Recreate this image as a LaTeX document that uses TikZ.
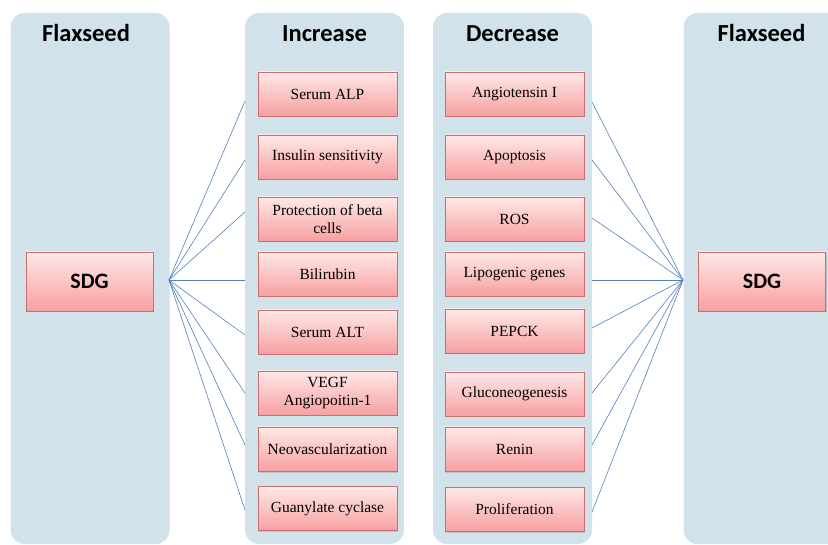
\documentclass[tikz,border=0pt]{standalone}
\usepackage{fontspec}
\setmainfont{Liberation Serif}
\newfontfamily\headfont{Carlito}
\usetikzlibrary{positioning,shadows}
\definecolor{panelblue}{RGB}{209,226,234}
\definecolor{boxtop}{RGB}{255,232,232}
\definecolor{boxbot}{RGB}{247,160,160}
\definecolor{boxline}{RGB}{200,110,108}
\definecolor{fanline}{RGB}{84,128,184}
\tikzset{
  panel/.style={fill=panelblue, rounded corners=14pt, minimum width=159pt, minimum height=531pt, inner sep=0pt},
  head/.style={font=\headfont\bfseries\fontsize{24.5}{28}\selectfont, anchor=base},
  effect/.style={draw=boxline, line width=0.6pt, top color=boxtop, bottom color=boxbot,
    minimum width=139pt, minimum height=44pt, align=center, inner sep=2pt,
    font=\rmfamily\fontsize{15.5}{17.5}\selectfont,
    drop shadow={shadow xshift=1pt, shadow yshift=-1.5pt, opacity=0.3}},
  sdgbox/.style={effect, minimum width=127pt, minimum height=59pt, font=\headfont\bfseries\fontsize{22}{26}\selectfont},
  fan/.style={draw=fanline, line width=0.6pt}
}
\begin{document}
\begin{tikzpicture}[x=1pt,y=-1pt]
\clip (0,0) rectangle (828,545);
\useasboundingbox (0,0) rectangle (828,545);
% columns
\node[panel] (flaxL) at (90,278.5) {};
\node[panel] (incP) at (324.5,278.5) {};
\node[panel] (decP) at (512.5,278.5) {};
\node[panel] (flaxR) at (763,278.5) {};
% headers
\node[head] (hFlaxL) at (86,42) {Flaxseed};
\node[head] (hInc) at (324.5,42) {Increase};
\node[head] (hDec) at (512.5,42) {Decrease};
\node[head] (hFlaxR) at (761.5,42) {Flaxseed};
% SDG
\node[sdgbox] (sdgL) at (89.5,281.5) {SDG};
\node[sdgbox] (sdgR) at (762,281.5) {SDG};
\coordinate (hubL) at (169,280);
\coordinate (hubR) at (683,280);
% increase
\foreach \t/\y [count=\i] in {Serum ALP/94, Insulin sensitivity/157, {Protection of beta\\cells}/219,
    Bilirubin/274, Serum ALT/332, {VEGF\\Angiopoitin-1}/393, Neovascularization/449, Guanylate cyclase/508.5}
  \node[effect] (inc\i) at (327.5,\y) {\t};
% decrease
\foreach \t/\y [count=\i] in {Angiotensin I/94, Apoptosis/157, ROS/219, Lipogenic genes/274,
    PEPCK/331, Gluconeogenesis/394, Renin/449, Proliferation/509}
  \node[effect] (dec\i) at (514.5,\y) {\t};
% fans
\foreach \y [count=\i] in {101,160,212,280,335,393,445,510}
  \coordinate (endL\i) at (245,\y);
\foreach \y [count=\i] in {102,160,218,280,328,393,445,512}
  \coordinate (endR\i) at (592,\y);
\foreach \i in {1,...,8} {
  \draw[fan] (hubL) -- (endL\i);
  \draw[fan] (hubR) -- (endR\i);
}
\end{tikzpicture}
\end{document}
